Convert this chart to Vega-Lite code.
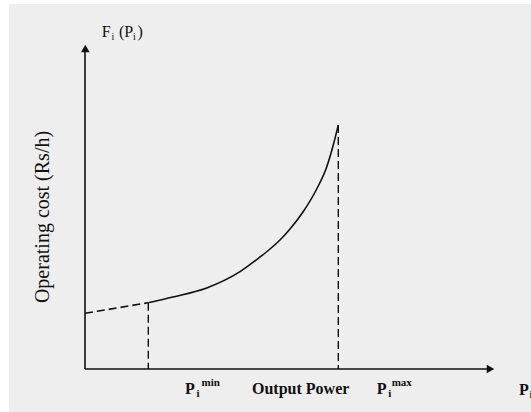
{
  "$schema": "https://vega.github.io/schema/vega-lite/v6.json",
  "width": 522,
  "height": 408,
  "padding": {"left": 9, "top": 4, "right": 0, "bottom": 0},
  "autosize": "none",
  "background": "#ffffff",
  "config": {"view": {"fill": "#eeeeee", "stroke": null}},
  "datasets": {
    "curve": [
      {"p": 63.3, "f": 66.3}, {"p": 88, "f": 72}, {"p": 121.7, "f": 81},
      {"p": 155, "f": 97.3}, {"p": 175, "f": 112}, {"p": 185, "f": 120},
      {"p": 195, "f": 129}, {"p": 205, "f": 140}, {"p": 218, "f": 157},
      {"p": 231.7, "f": 180}, {"p": 241.7, "f": 202}, {"p": 248, "f": 223},
      {"p": 253.3, "f": 244}
    ],
    "ext": [{"p": 0, "f": 55.7}, {"p": 63.3, "f": 66.3}],
    "vlines": [{"p": 63.3, "f0": 0, "f": 66.3}, {"p": 253.3, "f0": 0, "f": 244}],
    "axes": [
      {"p": 0, "p2": 0, "f": 0, "f2": 320},
      {"p": 0, "p2": 403, "f": 0, "f2": 0}
    ],
    "arrows": [
      {"p": 0.3, "f": 320.5, "dir": "up"},
      {"p": 405.5, "f": 0, "dir": "right"}
    ],
    "labels": [
      {"kind": "main", "p": 100, "f": -25, "t": "P"},
      {"kind": "main", "p": 167, "f": -25, "t": "Output Power"},
      {"kind": "main", "p": 291.7, "f": -25, "t": "P"},
      {"kind": "main", "p": 434, "f": -26, "t": "P"},
      {"kind": "sub", "p": 111.5, "f": -28, "t": "i"},
      {"kind": "sub", "p": 303.2, "f": -28, "t": "i"},
      {"kind": "sub", "p": 444.5, "f": -29, "t": "i"},
      {"kind": "sup", "p": 116.5, "f": -17, "t": "min"},
      {"kind": "sup", "p": 306.7, "f": -17, "t": "max"},
      {"kind": "top", "p": 16.7, "f": 332, "t": "F"},
      {"kind": "topsub", "p": 26.5, "f": 329, "t": "i"},
      {"kind": "top", "p": 34, "f": 332, "t": "(P"},
      {"kind": "topsub", "p": 48, "f": 329, "t": "i"},
      {"kind": "top", "p": 52.5, "f": 332, "t": ")"},
      {"kind": "ytitle", "p": -42, "f": 152, "t": "Operating cost (Rs/h)"}
    ]
  },
  "encoding": {
    "x": {"field": "p", "type": "quantitative", "axis": null,
          "scale": {"domain": [-76, 446], "nice": false, "zero": false}},
    "y": {"field": "f", "type": "quantitative", "axis": null,
          "scale": {"domain": [-43, 365], "nice": false, "zero": false}}
  },
  "layer": [
    {
      "data": {"name": "axes"},
      "mark": {"type": "rule", "color": "#111111", "strokeWidth": 1.6},
      "encoding": {"x2": {"field": "p2"}, "y2": {"field": "f2"}}
    },
    {
      "data": {"name": "arrows"},
      "mark": {"type": "point", "filled": true, "color": "#111111", "opacity": 1, "size": 75},
      "encoding": {
        "shape": {"field": "dir", "type": "nominal", "legend": null,
                  "scale": {"domain": ["up", "right"], "range": ["triangle-up", "triangle-right"]}}
      }
    },
    {
      "data": {"name": "vlines"},
      "mark": {"type": "rule", "color": "#111111", "strokeWidth": 1.4, "strokeDash": [8, 4]},
      "encoding": {"y2": {"field": "f0"}}
    },
    {
      "data": {"name": "ext"},
      "mark": {"type": "line", "color": "#111111", "strokeWidth": 1.6, "strokeDash": [8, 4]},
      "encoding": {}
    },
    {
      "data": {"name": "curve"},
      "mark": {"type": "line", "color": "#111111", "strokeWidth": 1.6, "interpolate": "monotone"},
      "encoding": {}
    },
    {
      "data": {"name": "labels"},
      "transform": [{"filter": "datum.kind === 'main'"}],
      "mark": {"type": "text", "font": "Liberation Serif", "fontSize": 16, "fontWeight": "bold",
               "align": "left", "baseline": "alphabetic", "color": "#111111"},
      "encoding": {"text": {"field": "t"}}
    },
    {
      "data": {"name": "labels"},
      "transform": [{"filter": "datum.kind === 'sub' || datum.kind === 'sup'"}],
      "mark": {"type": "text", "font": "Liberation Serif", "fontSize": 11, "fontWeight": "bold",
               "align": "left", "baseline": "alphabetic", "color": "#111111"},
      "encoding": {"text": {"field": "t"}}
    },
    {
      "data": {"name": "labels"},
      "transform": [{"filter": "datum.kind === 'top'"}],
      "mark": {"type": "text", "font": "Liberation Serif", "fontSize": 16,
               "align": "left", "baseline": "alphabetic", "color": "#111111"},
      "encoding": {"text": {"field": "t"}}
    },
    {
      "data": {"name": "labels"},
      "transform": [{"filter": "datum.kind === 'topsub'"}],
      "mark": {"type": "text", "font": "Liberation Serif", "fontSize": 10,
               "align": "left", "baseline": "alphabetic", "color": "#111111"},
      "encoding": {"text": {"field": "t"}}
    },
    {
      "data": {"name": "labels"},
      "transform": [{"filter": "datum.kind === 'ytitle'"}],
      "mark": {"type": "text", "font": "Liberation Serif", "fontSize": 20, "angle": 270,
               "align": "center", "baseline": "middle", "color": "#111111"},
      "encoding": {"text": {"field": "t"}}
    }
  ]
}
